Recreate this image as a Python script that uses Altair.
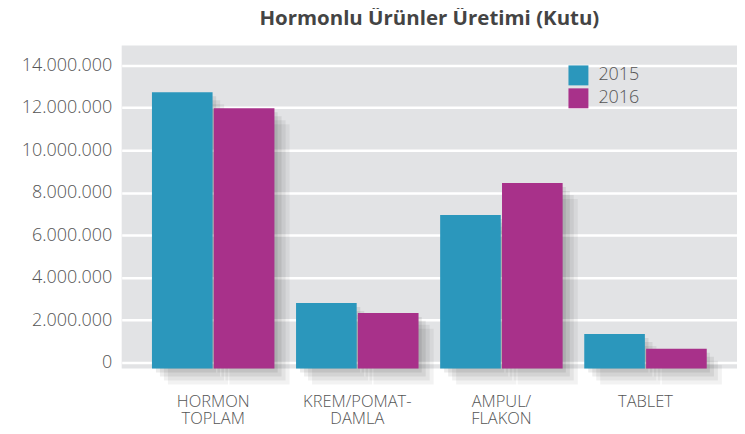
import altair as alt
import pandas as pd

# ---- data ----
categories = ["HORMON TOPLAM", "KREM/POMAT-DAMLA", "AMPUL/FLAKON", "TABLET"]
label_lines = [["HORMON", "TOPLAM"], ["KREM/POMAT-", "DAMLA"], ["AMPUL/", "FLAKON"], ["TABLET"]]
years = ["2015", "2016"]
values_2015 = [12720000, 2810000, 6950000, 1350000]
values_2016 = [11970000, 2340000, 8450000, 650000]
y_ticks = [0, 2000000, 4000000, 6000000, 8000000, 10000000, 12000000, 14000000]
y_min, y_max = -280000, 14920000
colors = ["#2B97BC", "#A8318A"]

rows = []
for c, a, b in zip(categories, values_2015, values_2016):
    rows.append({"category": c, "year": years[0], "value": a})
    rows.append({"category": c, "year": years[1], "value": b})
df = pd.DataFrame(rows)

# multi-line x labels
expr = "datum.label"
for c, lines in reversed(list(zip(categories, label_lines))):
    arr = "[" + ",".join("'" + l + "'" for l in lines) + "]"
    expr = f"datum.label == '{c}' ? {arr} : ({expr})"

FONT = "Open Sans"
GROUP_W = 122  # approx. pixel width of a category band

x_enc = alt.X(
    "category:N", sort=categories,
    scale=alt.Scale(paddingInner=0.15, paddingOuter=0.21),
    axis=alt.Axis(title=None, labelExpr=expr, labelAngle=0, domain=False, ticks=False,
                  labelPadding=25, labelFontSize=16.5, labelFontWeight=300,
                  labelColor="#555555", labelFont=FONT,
                  labelLineHeight=17, grid=False),
)
y_enc = alt.Y(
    "value:Q",
    scale=alt.Scale(domain=[y_min, y_max], nice=False, zero=False),
    axis=alt.Axis(title=None, values=y_ticks, domain=False, ticks=False,
                  labelExpr="join(split(format(datum.value, ','), ','), '.')",
                  labelPadding=10, labelFontSize=18, labelFontWeight=300,
                  labelColor="#555555", labelFont=FONT,
                  gridColor="white", gridWidth=2.5, gridOpacity=1),
)

base = alt.Chart(df)

shadows = []
for d, op in [(4, 0.08), (8, 0.07), (12, 0.06), (16, 0.05)]:
    shadows.append(
        base.mark_bar(color="black", opacity=op, yOffset=d, y2Offset=d, clip=False)
        .encode(
            x=x_enc,
            xOffset=alt.XOffset("year:N", sort=years,
                                scale=alt.Scale(paddingInner=0.02, range=[d, GROUP_W + d])),
            y=y_enc, y2=alt.datum(y_min),
        )
    )

bars = base.mark_bar(clip=False).encode(
    x=x_enc,
    xOffset=alt.XOffset("year:N", sort=years, scale=alt.Scale(paddingInner=0.02)),
    y=y_enc, y2=alt.datum(y_min),
    color=alt.Color("year:N", sort=years, scale=alt.Scale(domain=years, range=colors),
                    legend=alt.Legend(title=None, orient="none", legendX=448, legendY=20,
                                      symbolType="square", symbolSize=400, symbolStrokeWidth=0,
                                      symbolOpacity=1, labelFontSize=18, labelFontWeight=300,
                                      labelColor="#555555",
                                      labelFont=FONT, rowPadding=3, padding=0, labelOffset=10)),
)

chart = alt.layer(*shadows, bars).resolve_scale(xOffset="independent").properties(
    width=617, height=324,
    padding={"left": 114, "top": 37, "right": 0, "bottom": 57},
    autosize=alt.AutoSizeParams(type="none"),
    title=alt.Title("Hormonlu Ürünler Üretimi (Kutu)", fontSize=20.5, fontWeight="bold",
                    color="#444444", font=FONT, anchor="middle", offset=16),
).configure_view(fill="#E2E3E5", stroke=None)

chart.save("out.html", embed_options={"renderer": "svg", "actions": False})
